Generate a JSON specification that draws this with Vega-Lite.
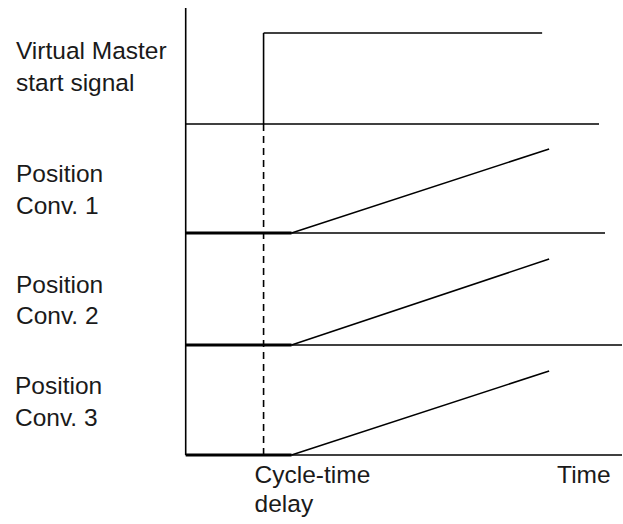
{
  "$schema": "https://vega.github.io/schema/vega-lite/v6.json",
  "width": 623,
  "height": 524,
  "autosize": {"type": "fit", "contains": "padding"},
  "padding": 0,
  "background": "white",
  "view": {"stroke": null},
  "config": {"text": {"font": "Liberation Sans"}},
  "datasets": {
    "segments": [
      {"kind": "axis", "t0": 0, "t1": 0, "v0": 0, "v1": 447},
      {"kind": "baseline", "t0": 0, "t1": 414, "v0": 331, "v1": 331},
      {"kind": "baseline", "t0": 0, "t1": 420, "v0": 222, "v1": 222},
      {"kind": "baseline", "t0": 0, "t1": 437, "v0": 110, "v1": 110},
      {"kind": "baseline", "t0": 0, "t1": 437, "v0": 0, "v1": 0},
      {"kind": "signal", "t0": 78, "t1": 78, "v0": 331, "v1": 422},
      {"kind": "signal", "t0": 78, "t1": 357, "v0": 422, "v1": 422},
      {"kind": "ramp", "t0": 106, "t1": 364, "v0": 222, "v1": 306},
      {"kind": "ramp", "t0": 106, "t1": 364, "v0": 110, "v1": 196},
      {"kind": "ramp", "t0": 106, "t1": 364, "v0": 0, "v1": 84},
      {"kind": "hold", "t0": 0, "t1": 106, "v0": 222, "v1": 222},
      {"kind": "hold", "t0": 0, "t1": 106, "v0": 110, "v1": 110},
      {"kind": "hold", "t0": 0, "t1": 106, "v0": 0, "v1": 0},
      {"kind": "delay", "t0": 78, "t1": 78, "v0": 0, "v1": 331}
    ],
    "labels": [
      {"label": "Virtual Master", "t": -170, "v": 396},
      {"label": "start signal", "t": -170, "v": 364},
      {"label": "Position", "t": -170, "v": 273},
      {"label": "Conv. 1", "t": -170, "v": 241},
      {"label": "Position", "t": -170, "v": 162},
      {"label": "Conv. 2", "t": -170, "v": 131},
      {"label": "Position", "t": -171, "v": 61},
      {"label": "Conv. 3", "t": -171, "v": 29},
      {"label": "Cycle-time", "t": 69, "v": -28},
      {"label": "delay", "t": 69, "v": -57},
      {"label": "Time", "t": 372, "v": -28}
    ]
  },
  "layer": [
    {
      "data": {"name": "segments"},
      "transform": [{"filter": "datum.kind === 'axis' || datum.kind === 'baseline' || datum.kind === 'signal' || datum.kind === 'ramp'"}],
      "mark": {"type": "rule", "color": "#000", "strokeWidth": 1.6},
      "encoding": {
        "x": {"field": "t0", "type": "quantitative", "scale": {"domain": [-186, 437], "nice": false, "zero": false}, "axis": null},
        "x2": {"field": "t1"},
        "y": {"field": "v0", "type": "quantitative", "scale": {"domain": [-69, 455], "nice": false, "zero": false}, "axis": null},
        "y2": {"field": "v1"}
      }
    },
    {
      "data": {"name": "segments"},
      "transform": [{"filter": "datum.kind === 'hold'"}],
      "mark": {"type": "rule", "color": "#000", "strokeWidth": 3},
      "encoding": {
        "x": {"field": "t0", "type": "quantitative"},
        "x2": {"field": "t1"},
        "y": {"field": "v0", "type": "quantitative"},
        "y2": {"field": "v1"}
      }
    },
    {
      "data": {"name": "segments"},
      "transform": [{"filter": "datum.kind === 'delay'"}],
      "mark": {"type": "rule", "color": "#000", "strokeWidth": 1.6, "strokeDash": [7, 5]},
      "encoding": {
        "x": {"field": "t0", "type": "quantitative"},
        "x2": {"field": "t1"},
        "y": {"field": "v0", "type": "quantitative"},
        "y2": {"field": "v1"}
      }
    },
    {
      "data": {"name": "labels"},
      "mark": {"type": "text", "align": "left", "baseline": "alphabetic", "fontSize": 24.5, "color": "#1a1a1a"},
      "encoding": {
        "x": {"field": "t", "type": "quantitative"},
        "y": {"field": "v", "type": "quantitative"},
        "text": {"field": "label", "type": "nominal"}
      }
    }
  ]
}
